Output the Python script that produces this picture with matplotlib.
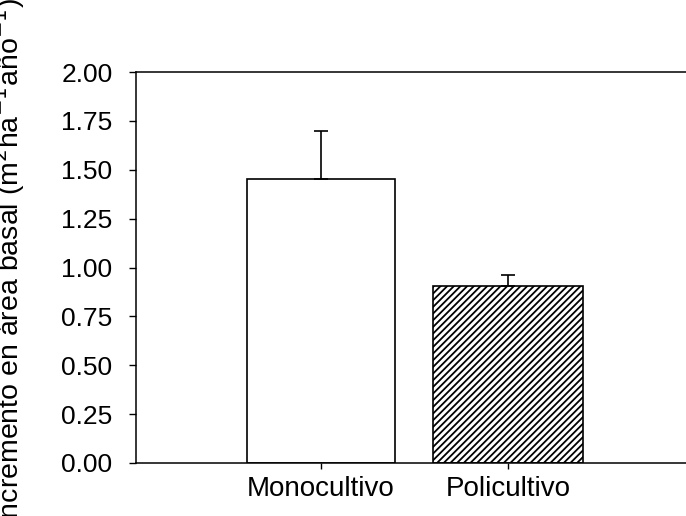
import matplotlib
matplotlib.use("Agg")
import matplotlib.pyplot as plt

categories = ["Monocultivo", "Policultivo"]
values = [1.453, 0.905]
errors_up = [0.245, 0.057]
yticks = [0.00, 0.25, 0.50, 0.75, 1.00, 1.25, 1.50, 1.75, 2.00]

plt.rcParams['font.family'] = ['Liberation Sans', 'DejaVu Sans']
plt.rcParams['hatch.linewidth'] = 1.3

fig = plt.figure(figsize=(6.86, 5.16), dpi=100)
ax = fig.add_axes([136/686, 53/516, 1 - 136/686 + 0.01, 391/516])

x = list(range(len(categories)))
ax.bar(x[0], values[0], width=0.79, color="white", edgecolor="black", linewidth=1.2, zorder=2)
ax.bar(x[1], values[1], width=0.80, color="white", edgecolor="black", linewidth=1.2,
       hatch="/////", zorder=2)
ax.errorbar(x, values, yerr=[[0, 0], errors_up], fmt="none", ecolor="black",
            elinewidth=1.2, capsize=5, capthick=1.2, zorder=3)

ax.set_xlim(-0.99, 1.99)
ax.set_ylim(0, 2.0)
ax.set_yticks(yticks)
ax.set_yticklabels([f"{t:.2f}" for t in yticks], fontsize=19)
ax.set_xticks(x)
ax.set_xticklabels(categories, fontsize=20)
ax.tick_params(axis="y", direction="out", length=5, width=1, pad=12)
ax.tick_params(axis="x", direction="out", length=4, width=1, pad=5)
ax.spines["right"].set_visible(False)
for s in ["left", "top", "bottom"]:
    ax.spines[s].set_linewidth(1.1)

ax.set_ylabel("Incremento en área basal (m$^{2}$ha$^{-1}$año$^{-1}$)", fontsize=20.5)
ax.yaxis.set_label_coords((27 - 136) / (686 * ax.get_position().width), 0.515)

fig.savefig("out.png", dpi=100)
